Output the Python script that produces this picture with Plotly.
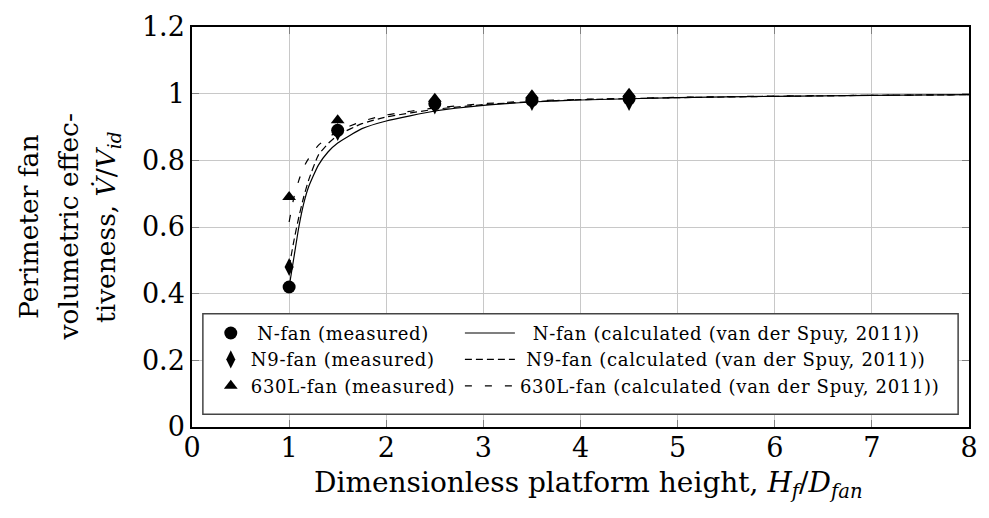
import plotly.graph_objects as go

# ---- data ----
x_meas = [1, 1.5, 2.5, 3.5, 4.5]
n_meas = [0.42, 0.89, 0.97, 0.98, 0.985]
n9_meas = [0.48, 0.885, 0.965, 0.975, 0.975]
l630_meas = [0.69, 0.92, 0.985, 0.995, 1.0]

x_calc = [1, 1.05, 1.1, 1.15, 1.2, 1.3, 1.4, 1.5, 1.75, 2, 2.5, 3, 3.5, 4, 5, 6, 7, 8]
n_calc = [0.42, 0.51, 0.60, 0.67, 0.72, 0.785, 0.825, 0.852, 0.895, 0.918, 0.948, 0.965, 0.975, 0.981, 0.988, 0.992, 0.995, 0.997]
n9_calc = [0.48, 0.56, 0.63, 0.69, 0.74, 0.815, 0.85, 0.875, 0.91, 0.93, 0.953, 0.967, 0.976, 0.982, 0.988, 0.992, 0.995, 0.997]
l630_calc = [0.615, 0.69, 0.74, 0.78, 0.805, 0.845, 0.868, 0.887, 0.917, 0.936, 0.957, 0.97, 0.978, 0.983, 0.989, 0.993, 0.995, 0.997]

x_ticks = [0, 1, 2, 3, 4, 5, 6, 7, 8]
y_ticks = [0, 0.2, 0.4, 0.6, 0.8, 1.0, 1.2]
y_tick_text = ["0", "0.2", "0.4", "0.6", "0.8", "1", "1.2"]

x_title = "Dimensionless platform height, <i>H<sub>f</sub></i>/<i>D<sub>fan</sub></i>"
y_title_lines = ["Perimeter fan", "volumetric effec-", "tiveness, <i>V̇</i>/<i>V<sub>id</sub></i>"]

FONT = "DejaVu Serif, serif"
NB = "\u00a0"


def leg(name, pad=0):
    return '<span style="letter-spacing:0.7px">' + NB * pad + name + "</span>"


fig = go.Figure()

# calculated curves
fig.add_trace(go.Scatter(x=x_calc, y=n_calc, mode="lines", name=leg("N-fan (calculated (van der Spuy, 2011))", 2),
                         line=dict(color="black", width=1.2, shape="spline", smoothing=0.5),
                         legend="legend2", legendgroup="c1"))
fig.add_trace(go.Scatter(x=x_calc, y=n9_calc, mode="lines", name=leg("N9-fan (calculated (van der Spuy, 2011))", 1),
                         line=dict(color="black", width=1.2, dash="7px,4px", shape="spline", smoothing=0.5),
                         legend="legend2", legendgroup="c2"))
fig.add_trace(go.Scatter(x=x_calc, y=l630_calc, mode="lines", name=leg("630L-fan (calculated (van der Spuy, 2011))"),
                         line=dict(color="black", width=1.2, dash="7px,13px", shape="spline", smoothing=0.5),
                         legend="legend2", legendgroup="c3"))

# measured points
fig.add_trace(go.Scatter(x=x_meas, y=n_meas, mode="markers", name=leg("N-fan (measured)", 1),
                         marker=dict(symbol="circle", size=13, color="black"),
                         legend="legend", legendgroup="m1"))
fig.add_trace(go.Scatter(x=x_meas, y=n9_meas, mode="markers", name=leg("N9-fan (measured)"),
                         marker=dict(symbol="diamond-tall", size=13, color="black"),
                         legend="legend", legendgroup="m2"))
fig.add_trace(go.Scatter(x=x_meas, y=l630_meas, mode="markers", name=leg("630L-fan (measured)"),
                         marker=dict(symbol="triangle-up", size=12, color="black"),
                         legend="legend", legendgroup="m3"))

axis_common = dict(
    showgrid=True, gridcolor="#c8c8c8", gridwidth=1,
    ticks="inside", ticklen=7, tickcolor="#808080", tickwidth=1,
    showline=True, linecolor="black", linewidth=1.5, mirror="ticks",
    zeroline=False,
    tickfont=dict(family=FONT, size=27, color="black"),
)

L, R, T, B = 192, 11, 17, 91
PW, PH = 989 - L - R, 518 - T - B


def px_x(p):
    return (p - L) / PW


def px_y(p):
    return (518 - B - p) / PH


annotations = [dict(text=x_title, xref="paper", yref="paper", x=px_x(593), y=px_y(486),
                    xanchor="center", yanchor="middle", showarrow=False,
                    font=dict(family=FONT, size=28, color="black"))]
for line_text, cx in zip(y_title_lines, [26, 67, 106]):
    annotations.append(dict(text=line_text, xref="paper", yref="paper", x=px_x(cx), y=0.5,
                            xanchor="center", yanchor="middle", textangle=-90, showarrow=False,
                            font=dict(family=FONT, size=26.5, color="black")))

fig.update_layout(
    width=989, height=518,
    margin=dict(l=L, r=R, t=T, b=B),
    paper_bgcolor="white", plot_bgcolor="white",
    font=dict(family=FONT, color="black"),
    xaxis=dict(range=[0, 8], tickvals=x_ticks, ticktext=[str(t) for t in x_ticks],
               ticklabelstandoff=-4, **axis_common),
    yaxis=dict(range=[0, 1.2], tickvals=y_ticks, ticktext=y_tick_text, **axis_common),
    legend=dict(x=px_x(211), xanchor="left", y=px_y(312), yanchor="top",
                bgcolor="rgba(0,0,0,0)", borderwidth=0,
                font=dict(family=FONT, size=18, color="black"),
                tracegroupgap=0, itemwidth=30),
    legend2=dict(x=px_x(463), xanchor="left", y=px_y(312), yanchor="top",
                 bgcolor="rgba(0,0,0,0)", borderwidth=0,
                 font=dict(family=FONT, size=18, color="black"),
                 tracegroupgap=0, itemwidth=50),
    shapes=[dict(type="rect", xref="paper", yref="paper", x0=px_x(203), x1=px_x(967), y0=px_y(414), y1=px_y(311),
                 line=dict(color="#444444", width=1.5), fillcolor="white", layer="above")],
    annotations=annotations,
    showlegend=True,
)

fig.write_html("out.html")
